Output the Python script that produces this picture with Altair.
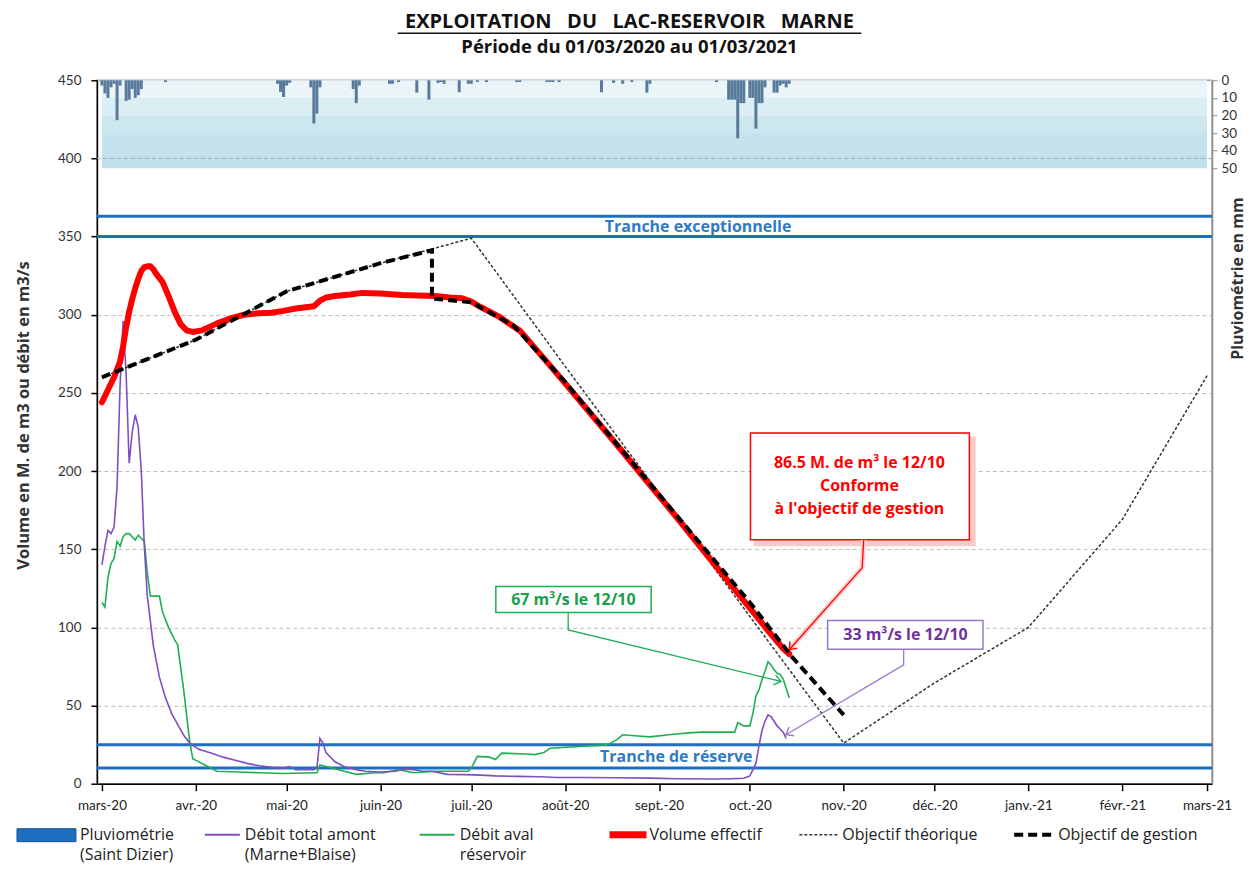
import altair as alt
import pandas as pd

# ---------------- data (x = day offset from 1 March 2020) ----------------
amont_days = [0,1,2,3,4,5,6,7,8,9,10,11,12,13,14,15,17,19,21,23,25,27,29,32,36,40,44,48,52,56,60,62,64,70,71,72,73,74,77,80,84,87,92,97,100,103,106,109,114,120,125,130,137,145,150,159,170,181,190,203,208,212,214,216,217,218,219,220,221,222,223,224,225,226]
amont_vals = [140,152,162,160,164,190,255,296,262,205,225,236,228,200,152,120,88,68,55,45,38,31,26,22,19.7,17,15,13,11.5,10.5,10,11,9,9,10,29,26,20,14,11,9,8,7.5,8,9.5,9,8,8,6,5.8,5.5,5,4.7,4.5,4,4,3.8,3.6,3.2,3,3.2,3.5,5,13,24,34,40,44,43,40,37,35,33,29]

aval_days = [0,1,2,3,4,5,6,7,8,9,10,11,12,13,14,15,16,19,20,22,24,25,27,29,30,32,34,38,45,52,60,70,71,72,74,76,80,84,90,93,98,103,110,114,121,122,124,128,130,132,140,143,146,148,155,159,164,167,170,172,177,181,188,194,198,203,209,210,212,214,215,216,217,218,219,220,221,222,223,224,225,226,227]
aval_vals = [116,113,132,141,144,155,152,158,160,160,158,156,159,157,155,135,120,120,110,100,92,89,60,27,16,14,12,8,7.5,7,6.5,7,7,12,11,10,8,6,7,7,9,7,8,8,8,10,17.5,17,15.5,19.6,19,18.6,20,22.7,23.5,24,24.5,25,28,31.3,30.5,30,31.5,32.5,33,33,33,39,37,37,45,56,60,66.5,72,78,76,73,70.7,70,67,61,55]

vol_days = [0,2,4,6,7,8,9,10,11,12,13,14,15,16,17,18,20,22,24,26,28,30,33,38,43,47,52,56,60,64,68,70,72,74,77,82,86,92,99,110,115,119,122,125,128,131,134,138,150,160,170,180,190,200,210,220,225,227]
vol_vals = [244,252,260,270,280,292,302,310,317,323,328,330.5,331,331,329,326,321,312,302,294,290,289,290,294.5,298,300,301,301.3,302.5,304,305,305.5,309,311,312,313,314,313.6,312.6,312,311,310.5,308.5,305,302,299,295,290,263,240,217,193.5,170,146,122,98,86.5,83]

theo_days = [0,31,61,92,122,153,184,214,245,275,306,337,365]
theo_vals = [260,284,315,333,349,267,186,107,26,64.5,100,169,261]

gest_days = [0,31,61,92,109,109,122,136,153,184,214,228,245]
gest_vals = [260,284,315,333,341.3,310.4,308,293,257,185,116,81,44]

pluie_days = [0,1,2,3,4,5,6,8,9,10,11,12,13,21,58,59,60,61,62,69,70,71,72,83,84,85,95,96,98,104,108,111,112,113,118,121,122,124,127,137,138,147,148,149,151,165,169,172,175,180,181,203,207,208,209,210,211,212,214,215,216,217,218,219,222,223,224,225,226,227]
pluie_mm = [3,7.5,10,4,2,22.7,3,11.7,11,5,10,8.5,5,1,2,6.6,9.5,3,1.5,4,24.6,19,4,5,13,3,2,2,1,7,11,1.5,1,2,6.8,2,2,1,1,1,1,1,1,1,1,6.8,1.5,2,1,7,2,1,11,11,11,33,13,13,10,10,27.5,13,13,4,7,7,3,2,4,2]

tranche_levels = [363, 350, 25, 10]
tranche_labels = ["Tranche exceptionnelle", "Tranche de réserve"]

month_names = ["janv.", "févr.", "mars", "avr.", "mai", "juin", "juil.", "août", "sept.", "oct.", "nov.", "déc."]

TITLE = "EXPLOITATION\u00a0\u00a0 DU\u00a0\u00a0 LAC-RESERVOIR\u00a0\u00a0 MARNE"
SUBTITLE = "Période du 01/03/2020 au 01/03/2021"

# ---------------- helpers ----------------
START = pd.Timestamp("2020-03-01")


def iso(day):
    return (START + pd.Timedelta(days=day)).strftime("%Y-%m-%dT%H:%M:%SZ")


def series_df(days, vals):
    return pd.DataFrame({"date": [iso(d) for d in days], "v": vals, "i": list(range(len(days)))})


FONT = "Lato"
TFONT = "Open Sans"
RED = "#ff0000"
PURPLE = "#7f4fbf"
GREEN = "#1fae54"
BLUE = "#1f6fc0"
PURPLE_TXT = "#7030a0"
GREEN_TXT = "#19a04a"

xscale = alt.Scale(type="utc", domain=[alt.DateTime(year=2020, month=3, date=1, utc=True),
                                        alt.DateTime(year=2021, month=3, date=1, utc=True)])
month_ticks = [alt.DateTime(year=2020 if m <= 12 else 2021, month=(m - 1) % 12 + 1, date=1, utc=True)
               for m in range(3, 16)]
label_expr = ("[" + ",".join("'%s'" % n for n in month_names) + "][utcmonth(datum.value)]"
              " + '-' + utcFormat(datum.value, '%y')")
xaxis = alt.Axis(values=month_ticks, labelExpr=label_expr, grid=False, domainColor="black",
                 domainWidth=1.5, tickColor="black", tickSize=7, tickWidth=1.5,
                 labelFontSize=13.5, labelColor="#222", labelPadding=8)
X = alt.X("date:T", scale=xscale, axis=xaxis, title=None)

yscale = alt.Scale(domain=[0, 450], nice=False)
yaxis = alt.Axis(values=list(range(0, 451, 50)), orient="left", grid=True, gridColor="#bdbdbd",
                 gridDash=[4, 3], gridWidth=1, domainColor="black", domainWidth=1.5,
                 tickColor="black", tickSize=6, tickWidth=1.5, labelFontSize=13.5, labelColor="#333",
                 labelPadding=10, title="Volume en M. de m3 ou débit en m3/s", titleFont=TFONT,
                 titleFontSize=16.5, titleFontWeight="bold", titleColor="#333", titleAngle=270,
                 titleX=-73, titleY=335, titleAlign="center", titleBaseline="middle")
Y = alt.Y("v:Q", scale=yscale, axis=yaxis)

pscale = alt.Scale(domain=[0, 400], reverse=True, nice=False)
paxis = alt.Axis(orient="right", values=[0, 10, 20, 30, 40, 50], grid=False, domainColor="#8c8c8c",
                 domainWidth=1.5, tickColor="#8c8c8c", tickSize=5, labelFontSize=13.5,
                 labelColor="#333", labelPadding=4, title="Pluviométrie en mm", titleFont=TFONT,
                 titleFontSize=16, titleFontWeight="bold", titleColor="#333", titleAngle=270,
                 titleX=25, titleY=198, titleAlign="center", titleBaseline="middle")

# ---------------- rainfall panel (right axis) ----------------
band_edges = [0, 10, 20, 30, 42, 50]
band_colors = ["#ebf5f8", "#dbeef3", "#cde7ef", "#c5e3ed", "#bfe0ea"]
bands_df = pd.DataFrame({
    "date": [iso(0)] * 5, "end": [iso(365)] * 5,
    "p0": band_edges[:-1], "p1": band_edges[1:], "c": band_colors,
})
bands = alt.Chart(bands_df).mark_rect().encode(
    x=X, x2="end:T", y=alt.Y("p0:Q", scale=pscale, axis=paxis), y2="p1:Q",
    color=alt.Color("c:N", scale=None))
pluie_df = pd.DataFrame({"date": [iso(d) for d in pluie_days], "mm": pluie_mm})
bars = alt.Chart(pluie_df).mark_bar(size=3, color="#587a9b").encode(
    x=X, y=alt.Y("mm:Q", scale=pscale, axis=paxis))
pluvio = alt.layer(bands, bars)

# ---------------- main panel (left axis) ----------------
grid400 = alt.Chart(pd.DataFrame({"v": [400]})).mark_rule(
    color="#9fb6be", strokeDash=[4, 3], strokeWidth=1).encode(y=Y)
tranches = alt.Chart(pd.DataFrame({"v": tranche_levels})).mark_rule(
    color=BLUE, strokeWidth=3).encode(y=Y)
tl_df = pd.DataFrame({"date": [iso(196.9), iso(189.7)], "v": [356.3, 17.4], "t": tranche_labels})
tranche_txt = alt.Chart(tl_df).mark_text(color="#2f7ac4", font=TFONT, fontSize=16,
                                         fontWeight="bold", baseline="middle").encode(
    x=X, y=Y, text="t:N")


def series(days, vals, **mark):
    return alt.Chart(series_df(days, vals)).mark_line(**mark).encode(x=X, y=Y, order="i:Q")


l_aval = series(aval_days, aval_vals, color=GREEN, strokeWidth=1.6)
l_amont = series(amont_days, amont_vals, color=PURPLE, strokeWidth=1.6)
l_theo = series(theo_days, theo_vals, color="#333", strokeWidth=1.5, strokeDash=[3, 2])
l_vol = series(vol_days, vol_vals, color=RED, strokeWidth=6, strokeJoin="round", strokeCap="round")
l_gest = series(gest_days, gest_vals, color="black", strokeWidth=4, strokeDash=[9, 5])

# ---------------- annotations ----------------
def box(d0, d1, v0, v1, stroke, fill="white", sw=1.5):
    df = pd.DataFrame({"date": [iso(d0)], "end": [iso(d1)], "v": [v0], "v2": [v1]})
    return alt.Chart(df).mark_rect(fill=fill, stroke=stroke, strokeWidth=sw).encode(
        x=X, x2="end:T", y=Y, y2="v2:Q")


def btext(day, v, s, color, size=16):
    df = pd.DataFrame({"date": [iso(day)], "v": [v], "t": [s]})
    return alt.Chart(df).mark_text(color=color, font=TFONT, fontSize=size, fontWeight="bold",
                                   baseline="middle").encode(x=X, y=Y, text="t:N")


def connector(pts, color, width=1.3):
    df = pd.DataFrame({"date": [iso(p[0]) for p in pts], "v": [p[1] for p in pts],
                       "i": list(range(len(pts)))})
    return alt.Chart(df).mark_line(color=color, strokeWidth=width).encode(x=X, y=Y, order="i:Q")


def arrowhead(pt, angle, color):
    df = pd.DataFrame({"date": [iso(pt[0])], "v": [pt[1]]})
    return alt.Chart(df).mark_point(shape="M-1,-0.75L0,0L-1,0.75", filled=False, size=180,
                                    strokeWidth=1.4, color=color, opacity=1,
                                    angle=angle).encode(x=X, y=Y)


red_pts = [(251.6, 156.0), (251.1, 138.1), (227.0, 85.7)]
green_pts = [(154.0, 109.5), (154.0, 98.4), (224.3, 65.4)]
purple_pts = [(264.8, 86.0), (264.8, 76.1), (225.9, 31.3)]

annotations = [
    box(215.8, 288.1, 152.8, 221.2, stroke="#f9caca", fill="#f9caca", sw=3),
    box(214.2, 286.5, 156.0, 224.4, stroke=RED),
    btext(250.2, 205.2, "86.5 M. de m³ le 12/10", RED),
    btext(250.2, 190.5, "Conforme", RED),
    btext(250.2, 175.8, "à l'objectif de gestion", RED),
    connector(red_pts, "#ffd0d0", 5),
    connector(red_pts, RED),
    arrowhead(red_pts[-1], 132, RED),
    box(130.1, 181.4, 109.5, 126.1, stroke=GREEN),
    btext(155.7, 117.6, "67 m³/s le 12/10", GREEN_TXT),
    connector(green_pts, GREEN),
    arrowhead(green_pts[-1], 13, GREEN),
    box(239.7, 291.0, 86.0, 104.4, stroke="#9a78c8"),
    btext(265.4, 95.2, "33 m³/s le 12/10", PURPLE_TXT),
    connector(purple_pts, "#9a78c8"),
    arrowhead(purple_pts[-1], 150, "#9a78c8"),
]

# ---------------- legend, title (outside the plot area) ----------------
dummy = pd.DataFrame({"k": [0]})


def ptext(x, y, s, size=16, align="left", weight="normal", color="#222"):
    return alt.Chart(dummy).mark_text(align=align, baseline="middle", font=TFONT, fontSize=size,
                                      fontWeight=weight, color=color).encode(
        x=alt.value(x), y=alt.value(y), text=alt.value(s))


def lrule(x1, x2, y, **kw):
    return alt.Chart(dummy).mark_rule(**kw).encode(x=alt.value(x1), x2=alt.value(x2), y=alt.value(y))


R1, R2 = 755, 775
legend = [
    alt.Chart(dummy).mark_rect(fill="#1f6fc0", stroke="#1b4f8a", strokeWidth=1).encode(
        x=alt.value(-80), x2=alt.value(-21), y=alt.value(R1 - 6), y2=alt.value(R1 + 7)),
    ptext(-17, R1, "Pluviométrie"), ptext(-17, R2, "(Saint Dizier)"),
    lrule(108, 143, R1, color=PURPLE, strokeWidth=2),
    ptext(148, R1, "Débit total amont"), ptext(148, R2, "(Marne+Blaise)"),
    lrule(323, 358, R1, color=GREEN, strokeWidth=2),
    ptext(363, R1, "Débit aval"), ptext(363, R2, "réservoir"),
    lrule(513, 550, R1, color=RED, strokeWidth=7),
    ptext(553, R1, "Volume effectif"),
    lrule(703, 741, R1, color="#333", strokeWidth=1.5, strokeDash=[3, 2]),
    ptext(746, R1, "Objectif théorique"),
    lrule(918, 958, R1, color="black", strokeWidth=4, strokeDash=[9, 5]),
    ptext(962, R1, "Objectif de gestion"),
]

title_marks = [
    ptext(533, -58, TITLE, size=20, align="center", weight="bold", color="#111"),
    ptext(533, -33, SUBTITLE, size=18.5, align="center", weight="bold", color="#111"),
    lrule(301, 765, -47, color="#111", strokeWidth=1.5),
]

main = alt.layer(grid400, tranches, tranche_txt, l_aval, l_amont, l_theo, l_vol, l_gest,
                 *annotations, *legend, *title_marks)

chart = alt.layer(pluvio, main).resolve_scale(y="independent").properties(
    width=1116, height=704,
    autosize=alt.AutoSizeParams(type="none"),
    padding={"left": 89, "top": 72, "right": 36, "bottom": 80},
).configure_view(stroke="#a6a6a6", strokeWidth=1.5).configure_axis(
    labelFont=FONT, titleFont=TFONT).configure_text(font=TFONT)

chart.save("out.html", embed_options={"renderer": "svg", "actions": False})
